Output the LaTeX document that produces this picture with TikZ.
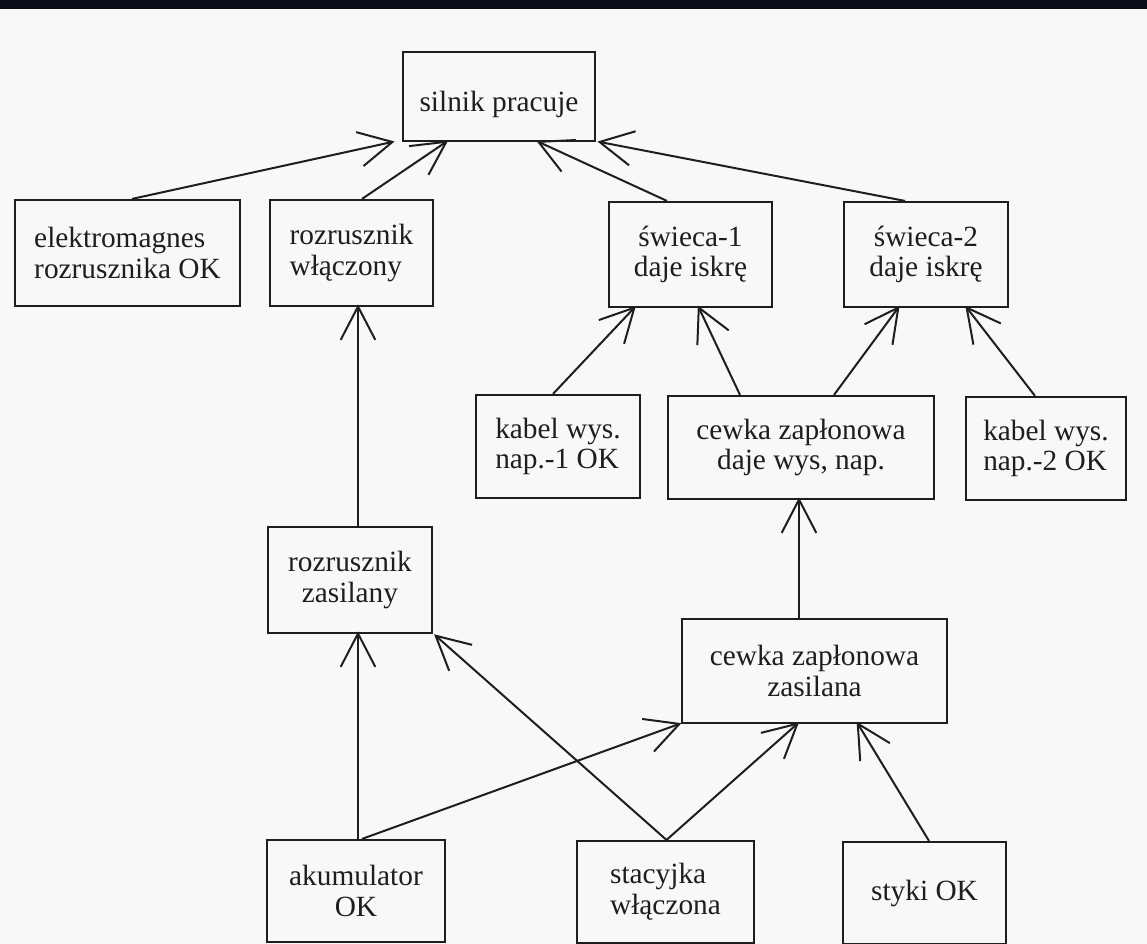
\documentclass[tikz,border=0pt]{standalone}
\usepackage{fontspec}
\setmainfont{Liberation Serif}
\usetikzlibrary{arrows.meta,calc}
\definecolor{paper}{HTML}{F8F8F8}
\definecolor{band}{HTML}{0A0F1A}
\definecolor{ink}{HTML}{1E1E1E}
\begin{document}
\begin{tikzpicture}[x=0.75pt,y=-0.75pt,
  box/.style={draw=ink, line width=1.6pt, inner sep=0pt, text=ink,
    font=\fontsize{22}{23}\selectfont},
  lbox/.style={box, align=left},
  cbox/.style={box, align=center},
  link/.style={draw=ink, line width=1.5pt, shorten >=-2pt,
    -{Straight Barb[length=25pt,width=26pt]}}]
\useasboundingbox (0,0) rectangle (1147,944);
\fill[paper] (0,0) rectangle (1147,944);
\fill[band] (0,0) rectangle (1147,9);

% goal
\node[cbox, minimum width=144pt, minimum height=66.75pt,
  text height=27pt, text depth=5pt] (silnik) at (499,96.5) {silnik pracuje};

% second level
\node[lbox, minimum width=168.75pt, minimum height=79.5pt] (elek) at (127.5,253) {elektromagnes\\rozrusznika OK};
\node[lbox, minimum width=122.25pt, minimum height=79.5pt] (rwl) at (351.5,253) {rozrusznik\\włączony};
\node[cbox, minimum width=122.25pt, minimum height=78.75pt] (sw1) at (690.5,254.5) {świeca-1\\daje iskrę};
\node[cbox, minimum width=123pt, minimum height=78.75pt] (sw2) at (926,254.5) {świeca-2\\daje iskrę};

% third level
\node[lbox, minimum width=123pt, minimum height=77.25pt] (kab1) at (558,446.5) {kabel wys.\\nap.-1 OK};
\node[cbox, minimum width=199.5pt, minimum height=77.25pt] (cdaje) at (801,447.5) {cewka zapłonowa\\daje wys, nap.};
\node[lbox, minimum width=120pt, minimum height=77.25pt] (kab2) at (1046,448.5) {kabel wys.\\nap.-2 OK};

% supply level
\node[cbox, minimum width=123pt, minimum height=79.5pt] (rzas) at (350,580) {rozrusznik\\zasilany};
\node[cbox, minimum width=198.75pt, minimum height=78pt] (czas) at (814.5,671) {cewka zapłonowa\\zasilana};

% basic conditions
\node[cbox, minimum width=133.5pt, minimum height=76.5pt] (aku) at (356,891) {akumulator\\OK};
\node[lbox, minimum width=132.75pt, minimum height=76.5pt] (stac) at (665.5,892) {stacyjka\\włączona};
\node[cbox, minimum width=122.25pt, minimum height=76.5pt] (styki) at (924.5,893) {styki OK};

% dependencies
\draw[link] ($(elek.north)+(4.5,0)$) -- ($(silnik.south west)+(-10,0)$);
\draw[link] ($(rwl.north)+(10.5,0)$) -- ($(silnik.south west)+(44,0)$);
\draw[link] ($(sw1.north)+(-23.5,0)$) -- ($(silnik.south west)+(137,0)$);
\draw[link] ($(sw2.north)+(-21,0)$) -- ($(silnik.south east)+(4,0)$);
\draw[link] ($(rzas.north)+(8,0)$) -- ($(rwl.south)+(6.5,0)$);
\draw[link] ($(kab1.north)+(-5,0)$) -- ($(sw1.south)+(-56.5,0)$);
\draw[link] ($(cdaje.north)+(-61,0)$) -- ($(sw1.south)+(8.5,0)$);
\draw[link] ($(cdaje.north)+(33,0)$) -- ($(sw2.south)+(-28,0)$);
\draw[link] ($(kab2.north)+(-11,0)$) -- ($(sw2.south)+(41,0)$);
\draw[link] ($(czas.north)+(-15.5,0)$) -- ($(cdaje.south)+(-2,0)$);
\draw[link] ($(aku.north)+(2,0)$) -- ($(rzas.south)+(8,0)$);
\draw[link] ($(stac.north)+(1,0)$) -- ($(rzas.south east)+(3,2)$);
\draw[link] ($(aku.north)+(6,0)$) -- ($(czas.south west)+(-2,0)$);
\draw[link] ($(stac.north)+(1,0)$) -- ($(czas.south)+(-17.5,0)$);
\draw[link] ($(styki.north)+(4.5,0)$) -- ($(czas.south)+(43.5,0)$);
\end{tikzpicture}
\end{document}
